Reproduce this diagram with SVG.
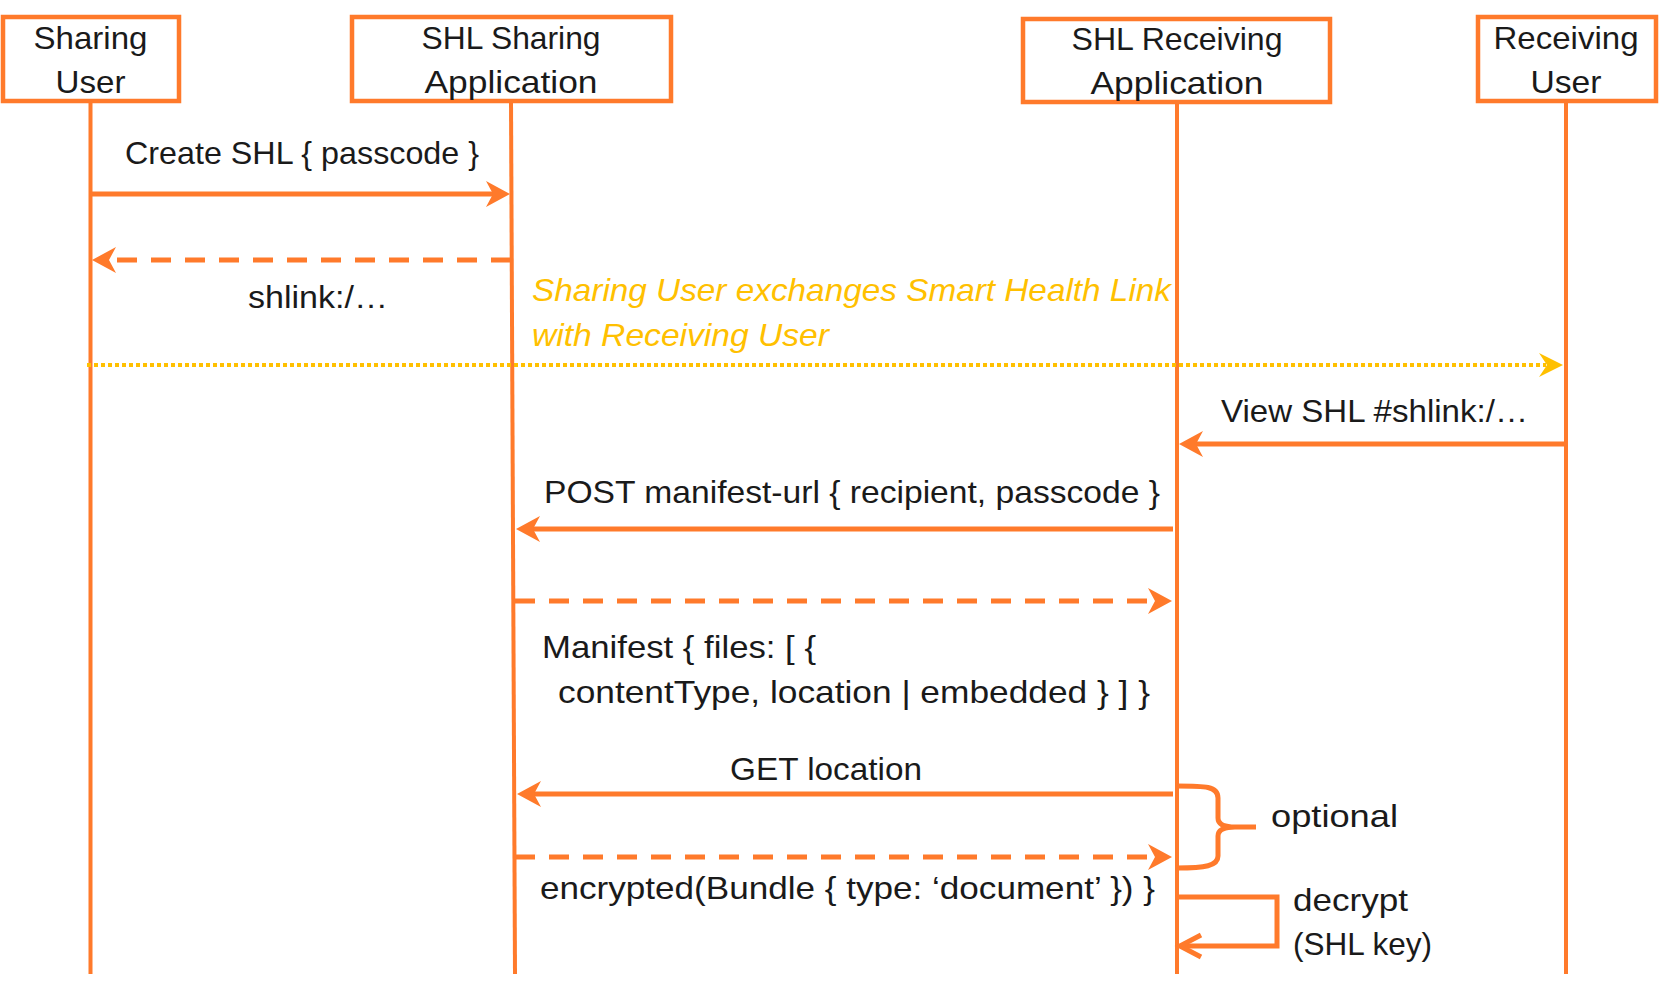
<svg xmlns="http://www.w3.org/2000/svg" width="1669" height="990" viewBox="0 0 1669 990">
<style>
.box{fill:#fff;stroke:#FF7A2B;stroke-width:4.5}
.life{stroke:#FF7A2B;stroke-width:4;fill:none}
.msg{stroke:#FF7A2B;stroke-width:5;fill:none}
.dash{stroke-dasharray:20 14}
.dot{stroke:#FFC000;stroke-width:4;stroke-dasharray:4 3;fill:none}
text{font-family:"Liberation Sans",Arial,sans-serif;font-size:32px;fill:#1a1a1a}
.c{text-anchor:middle}
.y{fill:#FFC000;font-style:italic}
</style>
<defs>
<marker id="ah" viewBox="-26 -14 28 28" markerWidth="28" markerHeight="28" refX="-17" refY="0" orient="auto" markerUnits="userSpaceOnUse">
<path d="M0,0 L-24,-13 L-17,0 L-24,13 Z" fill="#FF7A2B"/>
</marker>
<marker id="ahy" viewBox="-26 -14 28 28" markerWidth="28" markerHeight="28" refX="-17" refY="0" orient="auto" markerUnits="userSpaceOnUse">
<path d="M0,0 L-24,-12 L-16,0 L-24,12 Z" fill="#FFC000"/>
</marker>
</defs>
<rect width="1669" height="990" fill="#fff"/>

<g id="connectors">
<line class="life" x1="90.5" y1="101" x2="90.5" y2="974"/>
<line class="life" x1="511" y1="101" x2="515" y2="974"/>
<line class="life" x1="1177" y1="102" x2="1177" y2="974"/>
<line class="life" x1="1566" y1="101" x2="1566" y2="974"/>

<line class="msg" x1="90.5" y1="194" x2="493" y2="194" marker-end="url(#ah)"/>
<line class="msg dash" x1="511" y1="260" x2="109" y2="260" marker-end="url(#ah)"/>
<line class="dot" x1="87" y1="365" x2="1546" y2="365" marker-end="url(#ahy)"/>
<line class="msg" x1="1566" y1="444" x2="1196" y2="444" marker-end="url(#ah)"/>
<line class="msg" x1="1173" y1="529" x2="533" y2="529" marker-end="url(#ah)"/>
<line class="msg dash" x1="515" y1="601" x2="1155" y2="601" marker-end="url(#ah)"/>
<line class="msg" x1="1173" y1="794" x2="534" y2="794" marker-end="url(#ah)"/>
<line class="msg dash" x1="515" y1="857" x2="1155" y2="857" marker-end="url(#ah)"/>
<path class="msg" d="M1177,897 H1277 V946 H1180"/>
<path class="msg" stroke-width="4" d="M1201,935 L1180,946 L1201,957"/>
<path class="msg" stroke-width="4.5" d="M1177,786 C1205,786 1218,786 1218,798 V818 C1218,824 1224,827 1235,827 H1256 M1235,827 C1224,827 1218,830 1218,836 V856 C1218,866 1205,868 1177,868"/>
</g>

<g id="sharing-user">
<rect class="box" x="3" y="17" width="176" height="84"/>
<text class="c" x="90.5" y="49" textLength="114" lengthAdjust="spacingAndGlyphs">Sharing</text>
<text class="c" x="90.5" y="93" textLength="70" lengthAdjust="spacingAndGlyphs">User</text>
</g>
<g id="shl-sharing-app">
<rect class="box" x="352" y="17" width="319" height="84"/>
<text class="c" x="511" y="49" textLength="179" lengthAdjust="spacingAndGlyphs">SHL Sharing</text>
<text class="c" x="511" y="93" textLength="173" lengthAdjust="spacingAndGlyphs">Application</text>
</g>
<g id="shl-receiving-app">
<rect class="box" x="1023" y="19" width="307" height="83"/>
<text class="c" x="1177" y="50" textLength="211" lengthAdjust="spacingAndGlyphs">SHL Receiving</text>
<text class="c" x="1177" y="94" textLength="173" lengthAdjust="spacingAndGlyphs">Application</text>
</g>
<g id="receiving-user">
<rect class="box" x="1478" y="17" width="178" height="84"/>
<text class="c" x="1566" y="49" textLength="145" lengthAdjust="spacingAndGlyphs">Receiving</text>
<text class="c" x="1566" y="93" textLength="71" lengthAdjust="spacingAndGlyphs">User</text>
</g>

<g id="labels">
<text x="125" y="164" textLength="354" lengthAdjust="spacingAndGlyphs">Create SHL { passcode }</text>
<text x="248" y="308" textLength="140" lengthAdjust="spacingAndGlyphs">shlink:/…</text>
<text class="y" x="532" y="301" textLength="639" lengthAdjust="spacingAndGlyphs">Sharing User exchanges Smart Health Link</text>
<text class="y" x="532" y="346" textLength="297" lengthAdjust="spacingAndGlyphs">with Receiving User</text>
<text x="1221" y="422" textLength="307" lengthAdjust="spacingAndGlyphs">View SHL #shlink:/…</text>
<text x="544" y="503" textLength="616" lengthAdjust="spacingAndGlyphs">POST manifest-url { recipient, passcode }</text>
<text x="542" y="658" textLength="274" lengthAdjust="spacingAndGlyphs">Manifest { files: [ {</text>
<text x="558" y="703" textLength="592" lengthAdjust="spacingAndGlyphs">contentType, location | embedded } ] }</text>
<text x="730" y="780" textLength="192" lengthAdjust="spacingAndGlyphs">GET location</text>
<text x="540" y="899" textLength="615" lengthAdjust="spacingAndGlyphs">encrypted(Bundle { type: ‘document’ }) }</text>
<text x="1271" y="827" textLength="127" lengthAdjust="spacingAndGlyphs">optional</text>
<text x="1293" y="911" textLength="115" lengthAdjust="spacingAndGlyphs">decrypt</text>
<text x="1293" y="955" textLength="139" lengthAdjust="spacingAndGlyphs">(SHL key)</text>
</g>
</svg>
